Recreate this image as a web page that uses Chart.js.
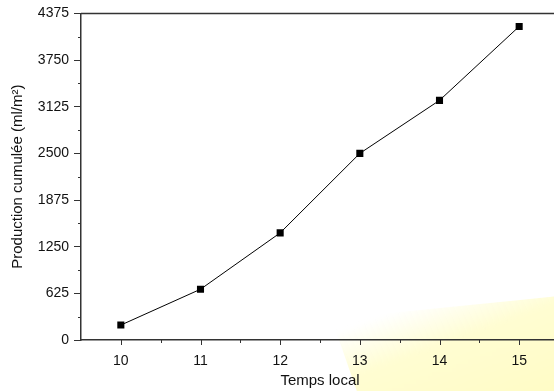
<!DOCTYPE html>
<html>
<head>
<meta charset="utf-8">
<script src="https://cdn.jsdelivr.net/npm/chart.js@4.4.0/dist/chart.umd.min.js"></script>
<style>
  html, body { margin: 0; padding: 0; background: #fff; }
  #wrap { width: 554px; height: 391px; overflow: hidden; position: relative; }
  #stain {
    position: absolute; left: 315px; top: 290px; width: 250px; height: 110px;
    background: linear-gradient(160deg, rgba(255,255,210,0) 25%, #fffdd2 50%, #fffcc4 100%);
    clip-path: polygon(8% 35%, 25% 22%, 100% 5%, 100% 100%, 18% 100%);
    filter: blur(2px);
  }
  canvas { display: block; position: relative; }
</style>
</head>
<body>
<div id="wrap"><div id="stain"></div><canvas id="chart" width="600" height="391"></canvas></div>
<script>
// data
const hours = [10, 11, 12, 13, 14, 15];
const production = [200, 680, 1435, 2500, 3210, 4200];
const yTicks = [0, 625, 1250, 1875, 2500, 3125, 3750, 4375];

const axisColor = '#333';
const font = { family: 'Liberation Sans, Arial, sans-serif', size: 14 };
const titleFont = { family: 'Liberation Sans, Arial, sans-serif', size: 15 };

// top border of the box + x ticks + minor ticks
const framePlugin = {
  id: 'frame',
  afterDraw(chart) {
    const { ctx, chartArea: a, scales } = chart;
    ctx.save();
    ctx.strokeStyle = axisColor;
    ctx.lineWidth = 1.5;
    ctx.beginPath();
    ctx.moveTo(a.left, a.top);
    ctx.lineTo(a.right + 20, a.top);
    ctx.stroke();

    ctx.lineWidth = 1;
    ctx.beginPath();
    for (let i = 0; i < yTicks.length - 1; i++) {
      const y = Math.round(scales.y.getPixelForValue((yTicks[i] + yTicks[i + 1]) / 2)) + 0.5;
      ctx.moveTo(a.left - 3, y);
      ctx.lineTo(a.left, y);
    }
    hours.forEach(h => {
      const x = Math.round(scales.x.getPixelForValue(h)) + 0.5;
      ctx.moveTo(x, a.bottom);
      ctx.lineTo(x, a.bottom + 5);
      const m = Math.round(scales.x.getPixelForValue(h + 0.5)) + 0.5;
      ctx.moveTo(m, a.bottom);
      ctx.lineTo(m, a.bottom + 3);
    });
    ctx.stroke();
    ctx.restore();
  }
};

new Chart(document.getElementById('chart'), {
  type: 'line',
  data: {
    datasets: [{
      data: hours.map((h, i) => ({ x: h, y: production[i] })),
      borderColor: '#000',
      borderWidth: 1,
      backgroundColor: '#000',
      pointStyle: 'rect',
      pointRadius: 5,
      pointBorderWidth: 0,
      tension: 0
    }]
  },
  options: {
    responsive: false,
    animation: false,
    layout: { padding: { top: 13, right: 41, left: 5, bottom: 0 } },
    plugins: { legend: { display: false }, tooltip: { enabled: false } },
    scales: {
      x: {
        type: 'linear',
        min: 9.5,
        max: 15.5,
        afterBuildTicks: s => { s.ticks = hours.map(v => ({ value: v })); },
        afterFit: s => { s.height = 51; },
        grid: { display: false, tickLength: 5 },
        border: { display: true, color: axisColor, width: 1.5 },
        ticks: { color: '#111', font, padding: 8, maxRotation: 0, callback: v => String(v) },
        title: { display: true, text: 'Temps local', color: '#111', font: titleFont, padding: { top: 0, bottom: 1 } }
      },
      y: {
        min: 0,
        max: 4375,
        afterBuildTicks: s => { s.ticks = yTicks.map(v => ({ value: v })); },
        afterFit: s => { s.width = 76; },
        grid: { drawOnChartArea: false, drawTicks: true, tickLength: 7, color: axisColor, lineWidth: 1 },
        border: { color: axisColor, width: 1.5 },
        ticks: { color: '#111', font, padding: 5, callback: v => String(v) },
        title: { display: true, text: 'Production cumulée (ml/m²)', color: '#111', font: titleFont, padding: { top: 4, bottom: 0 } }
      }
    }
  },
  plugins: [framePlugin]
});
</script>
</body>
</html>
